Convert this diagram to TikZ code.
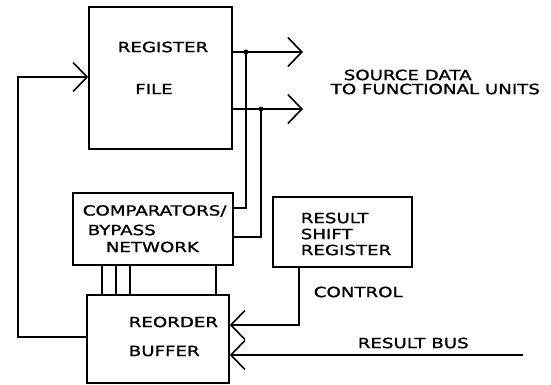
\documentclass[tikz,border=0pt]{standalone}
\usepackage{fontspec}
\newfontfamily\plotfont[FakeStretch=1.3, FakeBold=1.2]{DejaVu Sans}
\usetikzlibrary{arrows.meta}
\begin{document}
\begin{tikzpicture}[x=1pt, y=-1pt, line width=1.6pt,
    blk/.style={draw, rectangle, inner sep=0pt},
    txt/.style={inner sep=0pt, font=\plotfont\fontsize{14}{16}\selectfont},
    arr/.style={-{Straight Barb[length=14pt, width=29pt]}}]
        \useasboundingbox (0,0) rectangle (551,385);
        % blocks
        \node[blk, minimum width=143pt, minimum height=142pt] (regfile) at (160.5,78) {};
        \node[blk, minimum width=160pt, minimum height=72pt] (cmp) at (153,229) {};
        \node[blk, minimum width=139pt, minimum height=70pt] (rsr) at (342.5,232) {};
        \node[blk, minimum width=142pt, minimum height=88pt] (rob) at (158,339) {};
        % texts
        \node[txt] (regtxt) at (163,47) {REGISTER};
        \node[txt] (filetxt) at (154,89) {FILE};
        \node[txt, anchor=west] (srctxt) at (343,75) {SOURCE DATA};
        \node[txt, anchor=west] (futxt) at (330,89) {TO FUNCTIONAL UNITS};
        \node[txt, anchor=west] (cmptxt1) at (82,211) {COMPARATORS/};
        \node[txt, anchor=west] (cmptxt2) at (87,230) {BYPASS};
        \node[txt, anchor=west] (cmptxt3) at (105,247) {NETWORK};
        \node[txt, anchor=west] (rsrtxt1) at (300,218) {RESULT};
        \node[txt, anchor=west] (rsrtxt2) at (300,234) {SHIFT};
        \node[txt, anchor=west] (rsrtxt3) at (300,250) {REGISTER};
        \node[txt, anchor=west] (robtxt1) at (128,322) {REORDER};
        \node[txt, anchor=west] (robtxt2) at (128,351) {BUFFER};
        \node[txt, anchor=west] (ctltxt) at (313,292) {CONTROL};
        \node[txt, anchor=west] (bustxt) at (357,343) {RESULT BUS};
        % points
        \coordinate (out1) at (303,52);
        \coordinate (out2) at (303,109);
        \coordinate (tap1) at (246,52);
        \coordinate (tap2) at (261,109);
        \coordinate (cin1) at (233,208);
        \coordinate (cin2) at (233,237);
        \coordinate (fb) at (18,77);
        \coordinate (fbin) at (18,337);
        \coordinate (ctl) at (299,325);
        \coordinate (busend) at (523,355);
        % source data outputs
        \draw[arr] (regfile.east |- out1) -- (out1);
        \draw[arr] (regfile.east |- out2) -- (out2);
        \fill (tap1) circle (2.4pt);
        \fill (tap2) circle (2.4pt);
        \draw (tap1) |- (cmp.east |- cin1);
        \draw (tap2) |- (cmp.east |- cin2);
        % comparator to reorder buffer
        \foreach \xx in {102,116,130,216}
          \draw (cmp.south -| \xx,0) -- (rob.north -| \xx,0);
        % feedback
        \draw[arr] (rob.west |- fbin) -- (fbin) -- (fb) -- (regfile.west |- fb);
        % control and result bus
        \draw[arr] (rsr.south -| ctl) -- (ctl) -- (rob.east |- ctl);
        \draw[arr] (busend) -- (rob.east |- busend);
\end{tikzpicture}
\end{document}
